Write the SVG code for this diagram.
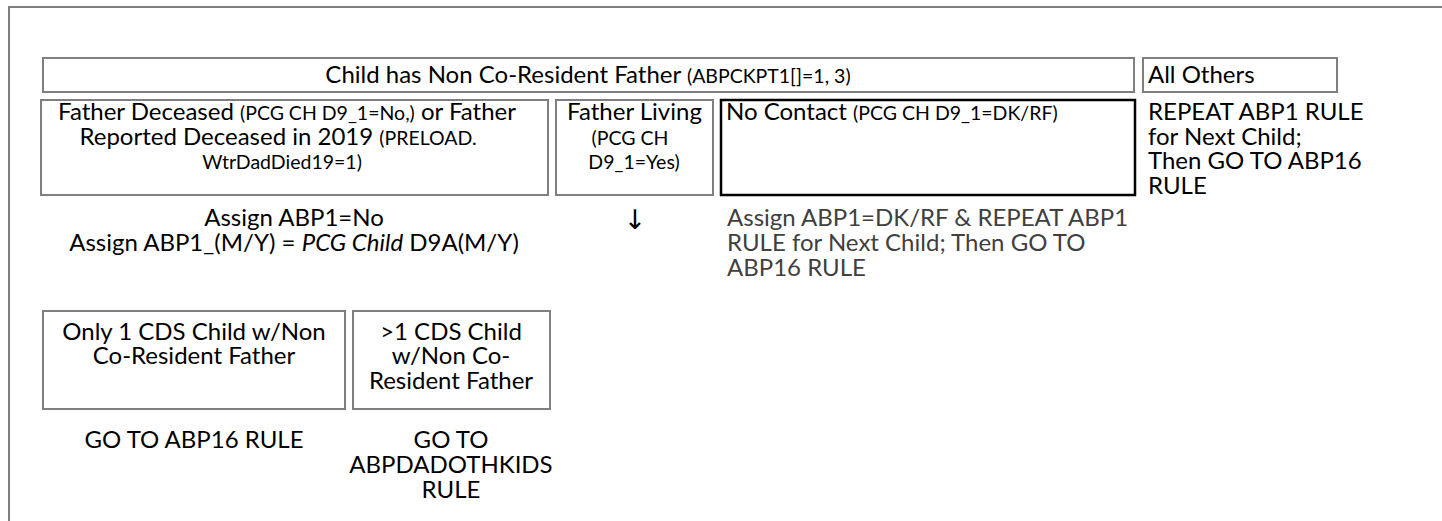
<svg xmlns="http://www.w3.org/2000/svg" width="1442" height="521" viewBox="0 0 1442 521">
<style>
.box{fill:#ffffff;stroke:#7f7f7f;stroke-width:2}
.boxk{fill:#ffffff;stroke:#000000;stroke-width:2.5}
.frame{fill:none;stroke:#7f7f7f;stroke-width:2}
text{font-family:Lato,"Liberation Sans",sans-serif;font-size:24px;fill:#000000}
.c{text-anchor:middle}
.s{font-size:19.5px}
.g{fill:#404040}
.i{font-style:italic}
.arrow{font-family:"DejaVu Sans","Liberation Sans",sans-serif;font-size:27px}
</style>
<rect width="1442" height="521" fill="#ffffff"/>
<rect class="frame" x="9" y="7" width="1500" height="600"/>

<g id="header">
<rect class="box" x="43" y="58" width="1091" height="34"/>
<text class="c" x="588" y="83">Child has Non Co-Resident Father <tspan class="s">(ABPCKPT1[]=1, 3)</tspan></text>
</g>
<g id="all-others">
<rect class="box" x="1143" y="58" width="194" height="34"/>
<text x="1148" y="83">All Others</text>
</g>

<g id="father-deceased">
<rect class="box" x="41" y="100" width="507" height="95"/>
<text class="c" x="287" y="120">Father Deceased <tspan class="s">(PCG CH D9_1=No,)</tspan> or Father</text>
<text class="c" x="278" y="145">Reported Deceased in 2019 <tspan class="s">(PRELOAD.</tspan></text>
<text class="c s" x="282" y="169">WtrDadDied19=1)</text>
</g>
<g id="father-living">
<rect class="box" x="556" y="100" width="157" height="95"/>
<text class="c" x="634.5" y="120">Father Living</text>
<text class="c s" x="630" y="145">(PCG CH</text>
<text class="c s" x="634" y="169">D9_1=Yes)</text>
</g>
<g id="no-contact">
<rect class="boxk" x="721" y="100" width="414" height="95"/>
<text x="726" y="120">No Contact <tspan class="s">(PCG CH D9_1=DK/RF)</tspan></text>
</g>
<g id="all-others-action">
<text x="1148" y="120">REPEAT ABP1 RULE</text>
<text x="1148" y="145">for Next Child;</text>
<text x="1148" y="169">Then GO TO ABP16</text>
<text x="1148" y="194">RULE</text>
</g>

<g id="deceased-action">
<text class="c" x="294" y="226">Assign ABP1=No</text>
<text class="c" x="294" y="251">Assign ABP1_(M/Y) = <tspan class="i">PCG Child</tspan> D9A(M/Y)</text>
</g>
<g id="no-contact-action">
<text class="g" x="727" y="226">Assign ABP1=DK/RF &amp; REPEAT ABP1</text>
<text class="g" x="727" y="251">RULE for Next Child; Then GO TO</text>
<text class="g" x="727" y="276">ABP16 RULE</text>
</g>

<g id="connectors">
<text class="arrow c" x="635" y="229">↓</text>
</g>

<g id="only-one-child">
<rect class="box" x="43" y="311" width="302" height="98"/>
<text class="c" x="194" y="340">Only 1 CDS Child w/Non</text>
<text class="c" x="194" y="364">Co-Resident Father</text>
</g>
<g id="more-than-one-child">
<rect class="box" x="353" y="311" width="197" height="98"/>
<text class="c" x="451" y="340">&gt;1 CDS Child</text>
<text class="c" x="451" y="364">w/Non Co-</text>
<text class="c" x="451" y="389">Resident Father</text>
</g>
<g id="only-one-action">
<text class="c" x="194" y="448">GO TO ABP16 RULE</text>
</g>
<g id="more-than-one-action">
<text class="c" x="451" y="448">GO TO</text>
<text class="c" x="451" y="473">ABPDADOTHKIDS</text>
<text class="c" x="451" y="498">RULE</text>
</g>
</svg>
